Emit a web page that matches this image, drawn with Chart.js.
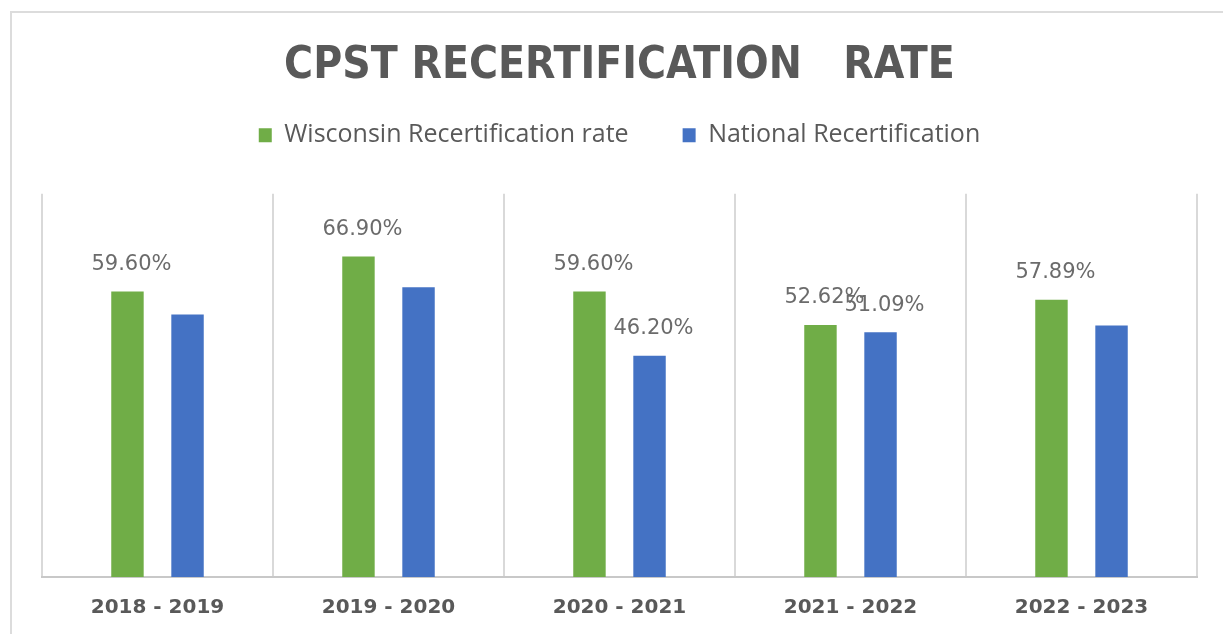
<!DOCTYPE html>
<html>
<head>
<meta charset="utf-8">
<script src="https://cdn.jsdelivr.net/npm/chart.js@4"></script>
<style>
  body { margin: 0; background: #fff; }
  #frame { position: absolute; left: 10px; top: 11px; width: 1240px; height: 660px; border: 2px solid #dcdcdc; }
  #wrap { position: absolute; left: 0; top: 0; width: 1223px; height: 634px; }
</style>
</head>
<body>
<div id="frame"></div>
<div id="wrap"><canvas id="chart"></canvas></div>
<script>
const seasons = ["2018 - 2019", "2019 - 2020", "2020 - 2021", "2021 - 2022", "2022 - 2023"];
const wisconsinRate = [59.6, 66.9, 59.6, 52.62, 57.89];
const nationalRate = [54.8, 60.5, 46.2, 51.09, 52.5];
// only some bars carry a label in the original
const wisconsinLabels = ["59.60%", "66.90%", "59.60%", "52.62%", "57.89%"];
const nationalLabels = [null, null, "46.20%", "51.09%", null];

const barLabels = {
  id: "barLabels",
  afterDatasetsDraw(chart) {
    const ctx = chart.ctx;
    const all = [wisconsinLabels, nationalLabels];
    ctx.save();
    ctx.font = "21px 'DejaVu Sans'";
    ctx.fillStyle = "#6b6b6b";
    ctx.textAlign = "center";
    ctx.textBaseline = "middle";
    chart.data.datasets.forEach((ds, i) => {
      chart.getDatasetMeta(i).data.forEach((bar, j) => {
        const txt = all[i][j];
        if (txt) ctx.fillText(txt, bar.x + 4, bar.y - 27);
      });
    });
    ctx.restore();
  }
};

// extra room between legend and plot
const legendGap = {
  id: "legendGap",
  beforeInit(chart) {
    const fit = chart.legend.fit;
    chart.legend.fit = function () {
      fit.bind(chart.legend)();
      this.height += 36;
    };
  }
};

new Chart(document.getElementById("chart"), {
  type: "bar",
  data: {
    labels: seasons,
    datasets: [
      {
        label: "Wisconsin Recertification rate",
        data: wisconsinRate,
        backgroundColor: "#70ad47",
        categoryPercentage: 0.52,
        barPercentage: 0.54
      },
      {
        label: "National Recertification",
        data: nationalRate,
        backgroundColor: "#4472c4",
        categoryPercentage: 0.52,
        barPercentage: 0.54
      }
    ]
  },
  options: {
    responsive: true,
    maintainAspectRatio: false,
    animation: false,
    layout: { padding: { left: 42, right: 26, top: 40, bottom: -5 } },
    plugins: {
      title: {
        display: true,
        text: "CPST RECERTIFICATION   RATE",
        color: "#595959",
        font: { family: "'DejaVu Sans Condensed', 'DejaVu Sans'", size: 44, weight: "bold" },
        padding: { top: 0, bottom: -24 }
      },
      legend: {
        position: "top",
        labels: {
          color: "#595959",
          font: { family: "'Open Sans'", size: 25 },
          boxWidth: 13,
          boxHeight: 14,
          padding: 54
        }
      },
      tooltip: { enabled: false }
    },
    scales: {
      x: {
        grid: { display: true, offset: true, color: "#d9d9d9", lineWidth: 2, drawTicks: false },
        border: { display: true, color: "#c8c8c8", width: 2 },
        ticks: {
          color: "#595959",
          padding: 19,
          font: { family: "'DejaVu Sans'", size: 20, weight: "bold" }
        }
      },
      y: { display: false, min: 0, max: 80 }
    }
  },
  plugins: [barLabels, legendGap]
});
</script>
</body>
</html>
